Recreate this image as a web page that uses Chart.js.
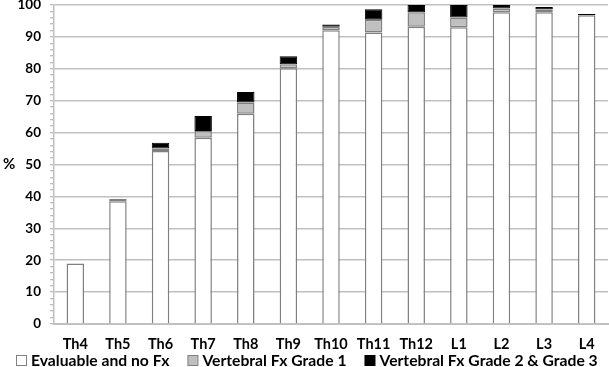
<!DOCTYPE html>
<html>
<head>
<meta charset="utf-8">
<script src="https://cdn.jsdelivr.net/npm/chart.js@4/dist/chart.umd.min.js"></script>
<style>
html,body{margin:0;padding:0;background:#fff;}
#wrap{width:609px;height:367px;position:relative;}
</style>
</head>
<body>
<div id="wrap"><canvas id="c" width="609" height="367"></canvas></div>
<script>
const categories = ['Th4','Th5','Th6','Th7','Th8','Th9','Th10','Th11','Th12','L1','L2','L3','L4'];
const seriesNames = ['Evaluable and no Fx','Vertebral Fx Grade 1','Vertebral Fx Grade 2 & Grade 3'];
const evaluableNoFx = [19.0, 38.5, 54.2, 58.4, 65.9, 80.2, 92.1, 91.4, 93.2, 93.0, 97.7, 97.7, 96.8];
const fxGrade1      = [0.0, 0.7, 0.8, 2.1, 3.5, 1.2, 1.1, 4.0, 4.5, 3.1, 1.2, 1.0, 0.0];
const fxGrade23     = [0.0, 0.0, 1.8, 4.7, 3.3, 2.5, 0.7, 3.3, 2.3, 3.9, 1.1, 0.7, 0.4];
const yTickMin = 0, yTickMax = 100, yMajorStep = 10, yMinorStep = 2;
const yTitle = '%';

const FONT = 'Lato, "Open Sans", sans-serif';

const extras = {
  id: 'extras',
  afterDraw(chart) {
    const {ctx, chartArea} = chart;
    ctx.save();
    // y-axis title
    ctx.font = 'bold 15px ' + FONT;
    ctx.fillStyle = '#000';
    ctx.textAlign = 'left';
    ctx.textBaseline = 'middle';
    ctx.fillText(yTitle, 3, (chartArea.top + chartArea.bottom) / 2);
    // legend
    const ds = chart.data.datasets;
    ctx.font = 'bold 15.7px ' + FONT;
    const box = 10, gap = 5, itemGap = 18;
    const widths = ds.map(d => ctx.measureText(d.label).width);
    const total = widths.reduce((a, w) => a + box + gap + w, 0) + itemGap * (ds.length - 1);
    let x = Math.round((chart.width - total) / 2) + 2;
    const baseY = 365.5;
    ds.forEach((d, i) => {
      ctx.fillStyle = d.backgroundColor;
      ctx.fillRect(x + 0.5, baseY - box, box, box);
      ctx.strokeStyle = i === 2 ? '#000' : '#808080';
      ctx.lineWidth = 1;
      ctx.strokeRect(x + 0.5, baseY - box, box, box);
      ctx.fillStyle = '#000';
      ctx.textBaseline = 'alphabetic';
      ctx.fillText(d.label, x + box + gap, baseY);
      x += box + gap + widths[i] + itemGap;
    });
    ctx.restore();
  }
};

new Chart(document.getElementById('c'), {
  type: 'bar',
  data: {
    labels: categories,
    datasets: [
      {label: seriesNames[0], data: evaluableNoFx, backgroundColor: '#ffffff', borderColor: '#808080', borderWidth: 1.5, borderSkipped: 'start'},
      {label: seriesNames[1], data: fxGrade1, backgroundColor: '#bfbfbf', borderColor: '#808080', borderWidth: 1.5, borderSkipped: false},
      {label: seriesNames[2], data: fxGrade23, backgroundColor: '#000000', borderColor: '#000000', borderWidth: 1, borderSkipped: false}
    ]
  },
  options: {
    responsive: false,
    animation: false,
    layout: {padding: {top: 5, right: 1, left: 0, bottom: 15}},
    datasets: {bar: {categoryPercentage: 1.0, barPercentage: 0.41}},
    plugins: {
      legend: {display: false},
      tooltip: {enabled: false}
    },
    scales: {
      x: {
        stacked: true,
        afterFit(scale) { scale.height = 28; scale.paddingLeft = 0; scale.paddingRight = 0; },
        grid: {display: false},
        border: {color: '#c0c0c0', width: 2},
        ticks: {font: {family: FONT, size: 14.5, weight: 'bold'}, color: '#000', padding: 4, maxRotation: 0}
      },
      y: {
        stacked: true,
        min: yTickMin, max: yTickMax,
        afterFit(scale) { scale.width = 54; scale.paddingTop = 0; scale.paddingBottom = 0; },
        border: {color: '#c0c0c0', width: 1.5},
        grid: {
          color: ctx => (ctx.tick && ctx.tick.value % yMajorStep === 0) ? '#c0c0c0' : 'rgba(0,0,0,0)',
          tickColor: '#a8a8a8',
          lineWidth: 1.5,
          tickWidth: 1,
          tickLength: 4
        },
        ticks: {
          stepSize: yMinorStep,
          autoSkip: false,
          font: {family: FONT, size: 13.5, weight: 'bold'},
          color: '#000',
          padding: 9,
          callback: v => (v % yMajorStep === 0 ? String(v) : '')
        }
      }
    }
  },
  plugins: [extras]
});
</script>
</body>
</html>
